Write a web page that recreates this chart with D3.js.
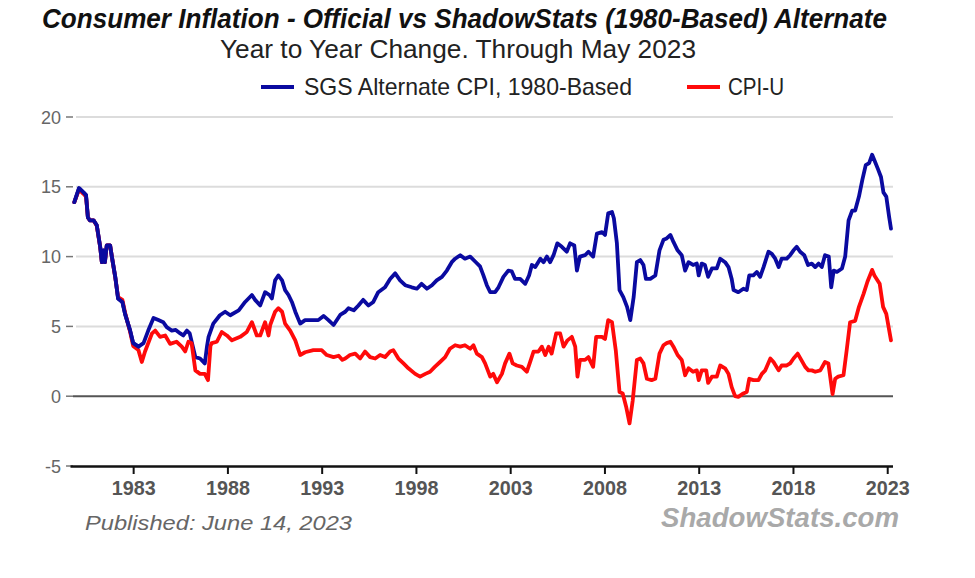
<!DOCTYPE html>
<html>
<head>
<meta charset="utf-8">
<script src="https://d3js.org/d3.v7.min.js"></script>
<style>
  body { margin: 0; background: #fff; }
  svg { display: block; font-family: "Liberation Sans", Arial, sans-serif; }
</style>
</head>
<body>
<div id="chart"></div>
<script>
// --- DATA (decimal year, % change year to year) ---
var sgsSeries = [
  [1979.88,13.9],[1980.13,14.9],[1980.36,14.6],[1980.5,14.4],[1980.6,12.8],[1980.7,12.6],[1980.9,12.6],
  [1981.07,12.25],[1981.25,10.7],[1981.34,9.6],[1981.42,10.45],[1981.5,9.6],[1981.6,10.8],[1981.78,10.8],
  [1981.87,10.0],[1982.05,8.55],[1982.2,7.0],[1982.43,6.75],[1982.57,5.9],[1982.84,4.7],[1983.0,3.8],
  [1983.28,3.55],[1983.55,3.8],[1983.8,4.7],[1984.08,5.6],[1984.34,5.45],[1984.6,5.3],[1984.78,4.95],
  [1985.05,4.7],[1985.26,4.75],[1985.5,4.5],[1985.66,4.35],[1985.85,4.7],[1986.0,4.5],[1986.3,2.8],
  [1986.55,2.7],[1986.8,2.35],[1986.92,3.6],[1987.0,4.25],[1987.25,5.2],[1987.6,5.8],[1987.88,6.05],
  [1988.15,5.8],[1988.6,6.15],[1988.94,6.75],[1989.3,7.25],[1989.47,6.9],[1989.74,6.5],[1990.0,7.45],
  [1990.23,7.25],[1990.36,7.0],[1990.53,8.3],[1990.7,8.65],[1990.9,8.3],[1991.06,7.6],[1991.24,7.25],
  [1991.42,6.75],[1991.6,6.05],[1991.86,5.2],[1992.12,5.45],[1992.56,5.45],[1992.82,5.45],[1993.1,5.75],
  [1993.36,5.45],[1993.63,5.1],[1994.0,5.85],[1994.25,6.05],[1994.42,6.3],[1994.7,6.15],[1994.95,6.5],
  [1995.2,6.9],[1995.48,6.5],[1995.74,6.75],[1996.0,7.45],[1996.36,7.8],[1996.63,8.4],[1996.9,8.8],
  [1997.16,8.3],[1997.43,7.95],[1997.78,7.8],[1998.05,7.7],[1998.3,8.05],[1998.58,7.7],[1998.85,7.95],
  [1999.1,8.3],[1999.38,8.55],[1999.64,9.0],[1999.9,9.6],[2000.08,9.85],[2000.35,10.1],[2000.6,9.85],
  [2000.88,10.0],[2001.14,9.65],[2001.4,9.3],[2001.58,8.65],[2001.76,7.95],[2001.94,7.45],[2002.2,7.45],
  [2002.38,7.8],[2002.64,8.55],[2002.9,9.0],[2003.08,8.95],[2003.26,8.4],[2003.53,8.4],[2003.8,8.05],
  [2004.0,8.65],[2004.15,9.4],[2004.33,9.25],[2004.6,9.85],[2004.77,9.6],[2004.95,10.0],[2005.12,9.6],
  [2005.3,10.1],[2005.5,10.95],[2005.74,10.7],[2006.0,10.35],[2006.18,10.95],[2006.4,10.8],[2006.54,9.0],
  [2006.7,10.0],[2006.97,10.1],[2007.15,10.35],[2007.4,10.0],[2007.6,11.65],[2007.87,11.75],[2008.03,11.55],
  [2008.2,13.1],[2008.4,13.2],[2008.5,12.75],[2008.66,10.95],[2008.8,7.6],[2009.0,7.1],[2009.2,6.4],
  [2009.37,5.45],[2009.55,7.1],[2009.72,9.6],[2009.9,9.75],[2010.07,9.4],[2010.2,8.4],[2010.43,8.4],
  [2010.7,8.65],[2010.92,10.45],[2011.13,11.2],[2011.3,11.3],[2011.5,11.55],[2011.66,11.05],[2011.88,10.45],
  [2012.1,10.1],[2012.28,9.0],[2012.46,9.6],[2012.7,9.4],[2012.9,9.5],[2013.0,8.65],[2013.16,9.5],
  [2013.33,9.4],[2013.5,8.55],[2013.7,9.15],[2013.96,9.15],[2014.14,9.85],[2014.4,9.6],[2014.58,9.25],
  [2014.75,8.4],[2014.85,7.6],[2015.1,7.45],[2015.37,7.7],[2015.55,7.6],[2015.68,8.65],[2015.9,8.65],
  [2016.08,8.9],[2016.26,8.55],[2016.44,9.25],[2016.7,10.35],[2016.88,10.2],[2017.06,9.85],[2017.24,9.25],
  [2017.4,9.85],[2017.67,9.85],[2017.85,10.1],[2018.03,10.45],[2018.2,10.7],[2018.38,10.35],[2018.6,10.1],
  [2018.8,9.4],[2019.0,9.5],[2019.18,9.25],[2019.36,9.5],[2019.53,9.25],[2019.7,10.1],[2019.9,10.0],
  [2020.03,7.8],[2020.16,9.0],[2020.33,8.9],[2020.6,9.15],[2020.77,10.0],[2020.95,12.6],[2021.14,13.3],
  [2021.3,13.3],[2021.5,14.3],[2021.68,15.5],[2021.86,16.55],[2022.04,16.7],[2022.2,17.3],[2022.32,16.9],
  [2022.5,16.3],[2022.67,15.7],[2022.8,14.6],[2022.95,14.3],[2023.1,12.85],[2023.2,12.0]
];

var cpiSeries = [
  [1979.88,13.9],[1980.13,14.8],[1980.36,14.5],[1980.5,14.3],[1980.6,12.8],[1980.7,12.6],[1980.9,12.6],
  [1981.07,12.2],[1981.25,10.7],[1981.34,9.6],[1981.42,10.4],[1981.5,9.6],[1981.6,10.8],[1981.78,10.8],
  [1981.87,10.0],[1982.05,8.5],[1982.2,7.1],[1982.43,6.9],[1982.57,6.0],[1982.84,4.6],[1983.0,3.6],
  [1983.28,3.3],[1983.46,2.45],[1983.63,3.2],[1984.0,4.5],[1984.17,4.7],[1984.43,4.25],[1984.7,4.35],
  [1984.96,3.75],[1985.3,3.9],[1985.58,3.55],[1985.76,3.2],[1985.93,3.9],[1986.1,3.8],[1986.3,1.85],
  [1986.55,1.6],[1986.8,1.6],[1986.97,1.15],[1987.1,3.6],[1987.17,3.8],[1987.44,3.9],[1987.7,4.6],
  [1987.97,4.35],[1988.24,4.0],[1988.68,4.25],[1989.03,4.6],[1989.3,5.3],[1989.56,4.35],[1989.74,4.35],
  [1990.0,5.3],[1990.18,4.35],[1990.27,5.1],[1990.53,6.05],[1990.7,6.3],[1990.9,6.05],[1991.06,5.2],
  [1991.33,4.7],[1991.6,4.0],[1991.86,2.95],[1992.12,3.15],[1992.56,3.3],[1993.0,3.3],[1993.27,2.95],
  [1993.63,2.8],[1993.9,2.9],[1994.1,2.6],[1994.25,2.7],[1994.5,2.95],[1994.78,3.05],[1995.04,2.7],
  [1995.3,3.2],[1995.57,2.8],[1995.84,2.7],[1996.1,2.95],[1996.36,2.8],[1996.63,3.2],[1996.8,3.3],
  [1997.07,2.7],[1997.34,2.35],[1997.6,2.0],[1997.96,1.6],[1998.22,1.4],[1998.5,1.6],[1998.75,1.75],
  [1999.0,2.1],[1999.28,2.45],[1999.55,2.8],[1999.8,3.4],[2000.08,3.65],[2000.35,3.55],[2000.6,3.65],
  [2000.88,3.4],[2001.05,3.65],[2001.23,3.05],[2001.5,2.8],[2001.67,2.35],[2001.94,1.4],[2002.1,1.6],
  [2002.3,1.0],[2002.56,1.6],[2002.73,2.35],[2002.96,3.05],[2003.13,2.35],[2003.35,2.2],[2003.62,2.1],
  [2003.88,1.75],[2004.06,2.45],[2004.24,3.2],[2004.5,3.2],[2004.68,3.55],[2004.86,2.95],[2005.04,3.55],
  [2005.2,3.05],[2005.44,4.5],[2005.65,4.5],[2005.83,3.55],[2006.04,4.0],[2006.27,4.25],[2006.45,3.55],
  [2006.57,1.4],[2006.7,2.6],[2006.97,2.6],[2007.15,2.8],[2007.4,2.1],[2007.56,4.25],[2007.87,4.25],
  [2008.03,4.1],[2008.2,5.45],[2008.4,5.3],[2008.6,3.3],[2008.8,0.3],[2008.97,0.2],[2009.15,-0.75],
  [2009.33,-1.95],[2009.5,-0.3],[2009.72,2.6],[2009.9,2.7],[2010.07,2.35],[2010.25,1.25],[2010.5,1.15],
  [2010.7,1.25],[2010.92,3.05],[2011.13,3.65],[2011.3,3.8],[2011.5,3.9],[2011.66,3.55],[2011.88,2.95],
  [2012.1,2.6],[2012.28,1.5],[2012.46,2.0],[2012.7,1.75],[2012.9,1.85],[2013.0,1.15],[2013.16,1.85],
  [2013.4,1.85],[2013.5,0.95],[2013.7,1.4],[2013.96,1.4],[2014.14,2.2],[2014.4,2.0],[2014.58,1.6],
  [2014.75,0.65],[2014.93,0.0],[2015.1,-0.05],[2015.37,0.2],[2015.55,0.3],[2015.68,1.25],[2015.9,1.15],
  [2016.17,1.15],[2016.35,1.6],[2016.53,1.85],[2016.8,2.7],[2016.97,2.45],[2017.24,1.85],[2017.4,2.2],
  [2017.67,2.2],[2017.85,2.35],[2018.03,2.7],[2018.25,3.05],[2018.44,2.6],[2018.65,2.1],[2018.82,1.85],
  [2019.0,1.85],[2019.18,1.75],[2019.45,1.85],[2019.7,2.45],[2019.88,2.35],[2020.1,0.15],[2020.24,1.25],
  [2020.4,1.4],[2020.68,1.5],[2020.85,3.3],[2021.03,5.3],[2021.3,5.4],[2021.5,6.4],[2021.75,7.35],
  [2021.95,8.2],[2022.2,9.05],[2022.32,8.65],[2022.6,8.05],[2022.78,6.4],[2022.95,5.9],[2023.2,4.0]
];

var yearTicks = [1983, 1988, 1993, 1998, 2003, 2008, 2013, 2018, 2023];
var valueTicks = [20, 15, 10, 5, 0, -5];
var seriesNames = ["SGS Alternate CPI, 1980-Based", "CPI-U"];
var seriesColors = ["#0a0aa0", "#ff0a0a"];

// --- SETUP ---
var width = 975, height = 578;
var svg = d3.select("#chart").append("svg")
  .attr("width", width)
  .attr("height", height);

svg.append("rect").attr("width", width).attr("height", height).attr("fill", "#fff");

var x = d3.scaleLinear().domain([1979.65, 2023.28]).range([70, 892.5]);
var y = d3.scaleLinear().domain([-5, 20]).range([466, 117]);

// --- TITLES --- (squeezed a bit so the glyphs look narrow like the original)
svg.append("text")
  .attr("x", 42).attr("y", 28)
  .attr("textLength", 845).attr("lengthAdjust", "spacingAndGlyphs")
  .attr("font-size", 28).attr("font-weight", "bold").attr("font-style", "italic")
  .attr("fill", "#111")
  .text("Consumer Inflation - Official vs ShadowStats (1980-Based) Alternate");

svg.append("text")
  .attr("x", 220).attr("y", 58)
  .attr("textLength", 476).attr("lengthAdjust", "spacingAndGlyphs")
  .attr("font-size", 26).attr("fill", "#222")
  .text("Year to Year Change. Through May 2023");

// legend
var legendPos = [[261, 304, 328], [687, 728, 56]];
seriesNames.forEach(function(name, i) {
  var p = legendPos[i];
  svg.append("line")
    .attr("x1", p[0]).attr("x2", p[0] + 33)
    .attr("y1", 87).attr("y2", 87)
    .attr("stroke", seriesColors[i]).attr("stroke-width", 4);
  svg.append("text")
    .attr("x", p[1]).attr("y", 95)
    .attr("textLength", p[2]).attr("lengthAdjust", "spacingAndGlyphs")
    .attr("font-size", 24).attr("fill", "#222")
    .text(name);
});

// --- GRID + Y AXIS ---
var grid = svg.append("g");
valueTicks.forEach(function(v) {
  if (v > 0) {
    grid.append("line")
      .attr("x1", 76).attr("x2", 893)
      .attr("y1", y(v)).attr("y2", y(v))
      .attr("stroke", "#dcdcdc").attr("stroke-width", 2);
  }
  grid.append("line")
    .attr("x1", 66).attr("x2", 73)
    .attr("y1", y(v)).attr("y2", y(v))
    .attr("stroke", "#777").attr("stroke-width", 1.5);
  grid.append("text")
    .attr("x", 61).attr("y", y(v) + 6.5)
    .attr("text-anchor", "end")
    .attr("font-size", 18).attr("fill", "#666")
    .text(v);
});

// zero line
svg.append("line")
  .attr("x1", 73).attr("x2", 893)
  .attr("y1", y(0)).attr("y2", y(0))
  .attr("stroke", "#555").attr("stroke-width", 2);

// --- X AXIS ---
var xAxis = d3.axisBottom(x)
  .tickValues(yearTicks)
  .tickFormat(d3.format("d"))
  .tickSize(8)
  .tickSizeOuter(0);

var xg = svg.append("g")
  .attr("transform", "translate(0," + y(-5) + ")")
  .call(xAxis);
xg.select(".domain").attr("stroke", "#111").attr("stroke-width", 2.5);
xg.selectAll(".tick line").attr("stroke", "#111").attr("stroke-width", 2);
xg.selectAll(".tick text")
  .attr("y", 14)
  .attr("font-family", "'Liberation Sans', Arial, sans-serif")
  .attr("font-size", 21).attr("font-weight", "bold")
  .attr("textLength", 44).attr("lengthAdjust", "spacingAndGlyphs")
  .attr("fill", "#555");

// --- LINES ---
var line = d3.line()
  .x(function(d) { return x(d[0]); })
  .y(function(d) { return y(d[1]); });

[sgsSeries, cpiSeries].forEach(function(series, i) {
  svg.append("path")
    .datum(series)
    .attr("d", line)
    .attr("fill", "none")
    .attr("stroke", seriesColors[i])
    .attr("stroke-width", 3.8)
    .attr("stroke-linejoin", "round")
    .attr("stroke-linecap", "round");
});
// blue drawn on top where the two overlap early on
svg.append("path")
  .datum(sgsSeries.filter(function(d) { return d[0] < 1983.3; }))
  .attr("d", line)
  .attr("fill", "none")
  .attr("stroke", seriesColors[0])
  .attr("stroke-width", 3.8)
  .attr("stroke-linejoin", "round")
  .attr("stroke-linecap", "round");

// --- FOOTER ---
svg.append("text")
  .attr("x", 85).attr("y", 530)
  .attr("textLength", 267).attr("lengthAdjust", "spacingAndGlyphs")
  .attr("font-size", 20).attr("font-style", "italic").attr("fill", "#666")
  .text("Published: June 14, 2023");

svg.append("text")
  .attr("x", 661).attr("y", 527)
  .attr("textLength", 238).attr("lengthAdjust", "spacingAndGlyphs")
  .attr("font-size", 27).attr("font-style", "italic").attr("font-weight", "bold")
  .attr("fill", "#a9a9a9")
  .text("ShadowStats.com");
</script>
</body>
</html>
